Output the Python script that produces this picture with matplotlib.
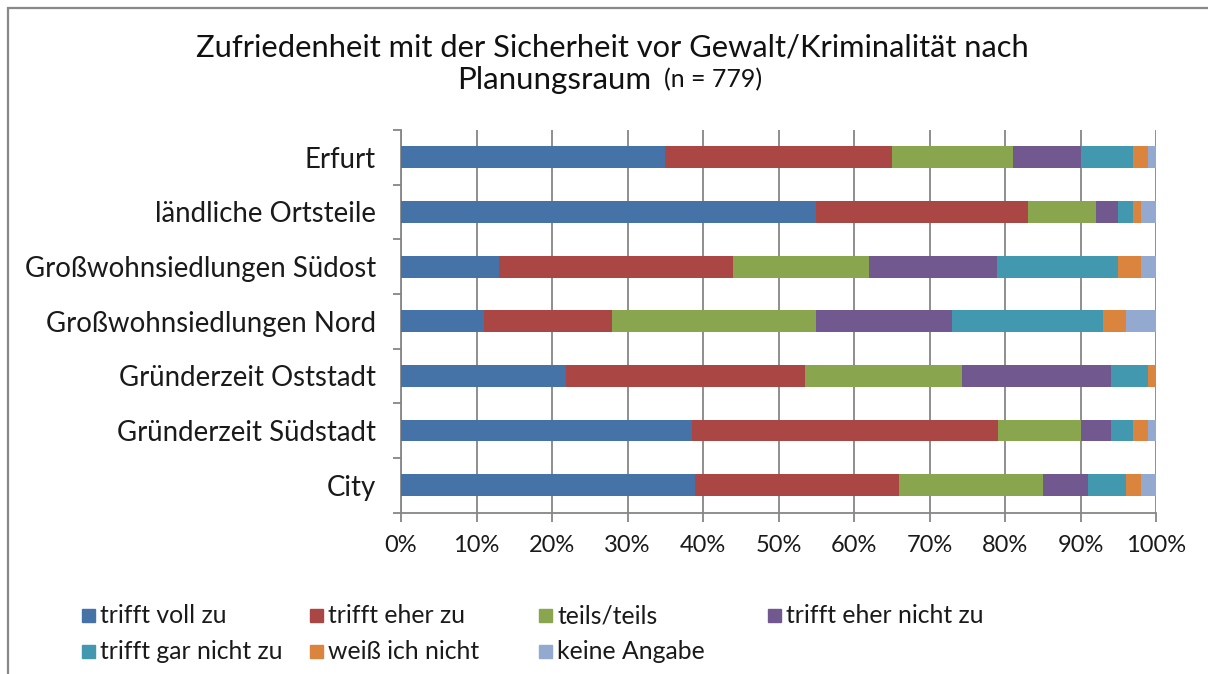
import matplotlib
matplotlib.use("Agg")
import matplotlib.pyplot as plt
from matplotlib.patches import Rectangle
from matplotlib.ticker import FixedLocator, PercentFormatter

plt.rcParams['font.family'] = ['Lato', 'DejaVu Sans']

# Planungsräume, von oben nach unten
regions = ["Erfurt", "ländliche Ortsteile", "Großwohnsiedlungen Südost",
           "Großwohnsiedlungen Nord", "Gründerzeit Oststadt",
           "Gründerzeit Südstadt", "City"]

answers = ["trifft voll zu", "trifft eher zu", "teils/teils",
           "trifft eher nicht zu", "trifft gar nicht zu", "weiß ich nicht",
           "keine Angabe"]
colors = ["#4572A7", "#AA4643", "#89A54E", "#71588F", "#4198AF", "#DB843D", "#93A9CF"]

# Anteile in Prozent je Antwort (Reihenfolge wie regions)
voll_zu       = [35.0, 55.0, 13.0, 11.0, 21.8, 38.6, 39.0]
eher_zu       = [30.0, 28.0, 31.0, 17.0, 31.7, 40.5, 27.0]
teils         = [16.0,  9.0, 18.0, 27.0, 20.8, 11.0, 19.0]
eher_nicht_zu = [ 9.0,  3.0, 17.0, 18.0, 19.8,  4.0,  6.0]
gar_nicht_zu  = [ 7.0,  2.0, 16.0, 20.0,  4.9,  2.9,  5.0]
weiss_nicht   = [ 2.0,  1.0,  3.0,  3.0,  1.0,  2.0,  2.0]
keine_angabe  = [ 1.0,  2.0,  2.0,  4.0,  0.0,  1.0,  2.0]

series = [voll_zu, eher_zu, teils, eher_nicht_zu, gar_nicht_zu, weiss_nicht, keine_angabe]

W, H = 1208, 674
fig = plt.figure(figsize=(W / 100, H / 100), dpi=100)

# Rahmen wie im Excel-Diagramm
fig.add_artist(Rectangle((8 / W, -0.1), 1.2, 1 - 8 / H + 0.1, transform=fig.transFigure,
                         fill=False, edgecolor="#888888", linewidth=1.6))

ax = fig.add_axes([401 / W, 1 - 512.5 / H, 755 / W, 382.5 / H])

ypos = list(range(len(regions)))[::-1]
left = [0.0] * len(regions)
for name, vals, col in zip(answers, series, colors):
    ax.barh(ypos, vals, left=left, height=0.4, color=col, label=name, zorder=3)
    left = [l + v for l, v in zip(left, vals)]

ax.set_xlim(0, 100)
ax.set_ylim(-0.5, len(regions) - 0.5)

ax.xaxis.set_major_locator(FixedLocator(range(0, 101, 10)))
ax.xaxis.set_major_formatter(PercentFormatter(decimals=0))
ax.grid(axis="x", color="#868686", linewidth=1.3, zorder=0)

ax.yaxis.set_major_locator(FixedLocator([i - 0.5 for i in range(len(regions) + 1)]))
ax.yaxis.set_minor_locator(FixedLocator(ypos))
ax.set_yticklabels([], minor=False)
ax.set_yticklabels(regions, minor=True)

ax.tick_params(axis="y", which="major", length=6, width=1.3, color="#868686", direction="out")
ax.tick_params(axis="y", which="minor", length=0, pad=18, labelsize=19.9, labelcolor="#1a1a1a")
ax.tick_params(axis="x", which="major", length=6.5, width=1.3, color="#868686", direction="out",
               pad=10, labelsize=17, labelcolor="#1a1a1a")

for s in ["top", "right"]:
    ax.spines[s].set_visible(False)
for s in ["left", "bottom"]:
    ax.spines[s].set_color("#868686")
    ax.spines[s].set_linewidth(1.3)

# Titel
fig.text(612 / W, 1 - 47 / H, "Zufriedenheit mit der Sicherheit vor Gewalt/Kriminalität nach",
         ha="center", va="center", fontsize=22.2, color="#111111")
fig.text(651 / W, 1 - 80 / H, "Planungsraum", ha="right", va="center", fontsize=22.5, color="#111111")
fig.text(664 / W, 1 - 80 / H, "(n = 779)", ha="left", va="center", fontsize=18, color="#111111")

# Legende (Excel: gleich breite Spalten)
col_x = [82, 310, 539, 768]
row_y = [615.5, 651.5]
for i, (name, col) in enumerate(zip(answers, colors)):
    x = col_x[i % 4]
    y = row_y[i // 4]
    fig.add_artist(Rectangle((x / W, 1 - (y + 6.5) / H), 12.7 / W, 13 / H,
                             transform=fig.transFigure, color=col))
    fig.text((x + 18) / W, 1 - y / H, name, ha="left", va="center",
             fontsize=17.8, color="#1a1a1a")

fig.savefig("out.png", dpi=100)
